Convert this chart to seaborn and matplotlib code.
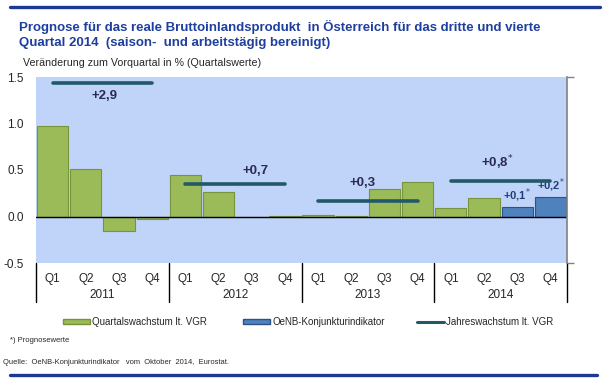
import matplotlib
matplotlib.use("Agg")
import matplotlib.pyplot as plt
import matplotlib.transforms as mtransforms
from matplotlib.patches import Patch
from matplotlib.lines import Line2D
import seaborn as sns
import pandas as pd

# data
years = ["2011", "2012", "2013", "2014"]
quarters = ["Q1", "Q2", "Q3", "Q4"]
vgr_growth = [0.97, 0.51, -0.16, -0.03,
              0.45, 0.26, -0.01, 0.01,
              0.02, 0.01, 0.30, 0.37,
              0.09, 0.20]
oenb_growth = [0.10, 0.21]
oenb_labels = ["+0,1", "+0,2"]
annual_growth = [2.88, 0.70, 0.34, 0.76]
annual_labels = ["+2,9", "+0,7", "+0,3", "+0,8"]
annual_forecast = [False, False, False, True]

cats = [f"{y} {q}" for y in years for q in quarters]
df_vgr = pd.DataFrame({"cat": cats[:len(vgr_growth)], "val": vgr_growth})
df_oenb = pd.DataFrame({"cat": cats[len(vgr_growth):], "val": oenb_growth})

green = "#9BBB59"
green_edge = "#77933C"
blue = "#4F81BD"
blue_edge = "#2C5288"
line_col = "#215968"
bg = "#C0D3F8"
title_col = "#1F3F9F"
rule_col = "#1C3A94"
lab_col = "#2A2A55"

sns.set_style("white")
plt.rcParams["font.family"] = ["Liberation Sans", "DejaVu Sans"]

fig = plt.figure(figsize=(6.06, 3.78), dpi=100)
W, H = 606, 378
ax = fig.add_axes([36 / W, 1 - 263 / H, 531 / W, 186 / H])
ax.set_facecolor(bg)

sns.barplot(data=df_vgr, x="cat", y="val", order=cats, color=green,
            edgecolor=green_edge, linewidth=0.8, width=0.94, saturation=1, ax=ax)
sns.barplot(data=df_oenb, x="cat", y="val", order=cats, color=blue,
            edgecolor=blue_edge, linewidth=0.8, width=0.94, saturation=1, ax=ax)

ax.set_xlim(-0.5, len(cats) - 0.5)
ax.set_ylim(-0.5, 1.5)
ax.set_yticks([-0.5, 0.0, 0.5, 1.0, 1.5])
ax.set_yticklabels(["-0.5", "0.0", "0.5", "1.0", "1.5"])
ax.tick_params(axis="y", length=0, labelsize=8.5, pad=9)
ax.set_xticks(range(len(cats)))
ax.set_xticklabels(quarters * len(years))
ax.tick_params(axis="x", length=0, labelsize=8.5, pad=7)
ax.set_xlabel("")
ax.set_ylabel("")
for s in ax.spines.values():
    s.set_visible(False)
ax.axhline(0, color="black", lw=1, zorder=3)

# annual growth lines on secondary axis (scale -1 .. 3)
ax2 = ax.twinx()
ax2.set_ylim(-1, 3)
for i, v in enumerate(annual_growth):
    ax2.plot([4 * i, 4 * i + 3], [v, v], color=line_col, lw=2.6,
             solid_capstyle="round", zorder=4)
ax2.set_yticks([-1, 3])
ax2.set_yticklabels(["", ""])
ax2.tick_params(axis="y", length=5, color="#808080", width=1)
for s in ["top", "bottom", "left"]:
    ax2.spines[s].set_visible(False)
ax2.spines["right"].set_color("#808080")
ax2.spines["right"].set_linewidth(1.2)

# annual labels
ann_pos = [(1.56, 1.30), (6.13, 0.49), (9.35, 0.36), (13.4, 0.575)]
for (x, y), t, f in zip(ann_pos, annual_labels, annual_forecast):
    ax.text(x, y, t + ("$^{*}$" if f else ""), ha="center", va="center",
            fontsize=9.5, fontweight="bold", color=lab_col, zorder=5)
# forecast bar labels
for j, (v, t) in enumerate(zip(oenb_growth, oenb_labels)):
    ax.text(len(vgr_growth) + j, v + 0.03, t + "$^{*}$", ha="center", va="bottom",
            fontsize=8, fontweight="bold", color="#1F3F7A", zorder=5)

# year labels and separators under the axis
trans = mtransforms.blended_transform_factory(ax.transData, ax.transAxes)
for i, y in enumerate(years):
    ax.text(4 * i + 1.5, -32 / 186, y, transform=trans, ha="center", va="center",
            fontsize=8.5)
for k in range(len(years) + 1):
    ax.plot([4 * k - 0.5, 4 * k - 0.5], [0, -39 / 186], transform=trans,
            color="black", lw=1, clip_on=False)

# titles
fig.text(19 / W, 1 - 27 / H,
         "Prognose für das reale Bruttoinlandsprodukt  in Österreich für das dritte und vierte",
         fontsize=9.5, fontweight="bold", color=title_col, va="center")
fig.text(19 / W, 1 - 43 / H, "Quartal 2014  (saison-  und arbeitstägig bereinigt)",
         fontsize=9.5, fontweight="bold", color=title_col, va="center")
fig.text(23 / W, 1 - 63 / H, "Veränderung zum Vorquartal in % (Quartalswerte)",
         fontsize=7.7, va="center")

# legend
items = [
    (Patch(facecolor=green, edgecolor=green_edge), "Quartalswachstum lt. VGR", 63),
    (Patch(facecolor=blue, edgecolor=blue_edge), "OeNB-Konjunkturindikator", 243),
    (Line2D([], [], color=line_col, lw=2.2), "Jahreswachstum lt. VGR", 417),
]
for h, lab, x in items:
    fig.legend([h], [lab], loc="center left", bbox_to_anchor=(x / W, 1 - 322 / H),
               frameon=False, fontsize=7, handlelength=2.8, handleheight=0.55,
               handletextpad=0.2, borderpad=0, borderaxespad=0)

fig.text(10 / W, 1 - 341 / H, "*) Prognosewerte", fontsize=5.5, va="center")
fig.text(3 / W, 1 - 362 / H,
         "Quelle:  OeNB-Konjunkturindikator   vom  Oktober  2014,  Eurostat.",
         fontsize=5.4, va="center")

# rules
fig.add_artist(Line2D([10 / W, 600 / W], [1 - 7 / H, 1 - 7 / H], color=rule_col, lw=2.4))
fig.add_artist(Line2D([10 / W, 597 / W], [1 - 375 / H, 1 - 375 / H], color=rule_col, lw=2.4))

fig.savefig("out.png", dpi=100)
